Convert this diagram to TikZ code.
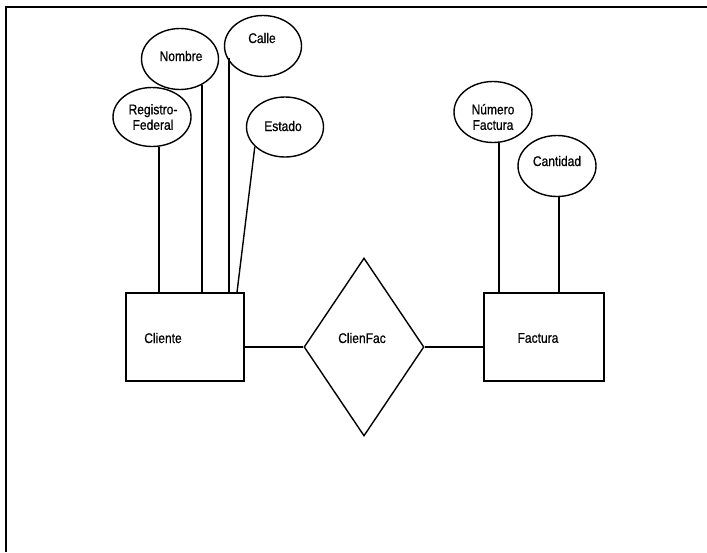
\documentclass[tikz,border=0pt]{standalone}
\usepackage{fontspec}
\setmainfont{Liberation Sans}
\newfontfamily\lblfont[FakeBold=0.8]{Liberation Sans}
\usetikzlibrary{shapes.geometric}
\begin{document}
\begin{tikzpicture}[x=1pt,y=-1pt,
  every path/.style={line width=1.4pt},
  attr/.style={draw,ellipse,inner sep=0pt,minimum width=77pt,minimum height=61pt},
  entity/.style={draw,rectangle,inner sep=0pt,minimum width=118pt,minimum height=88pt},
  rel/.style={draw,diamond,inner sep=0pt,aspect=0.674,minimum width=120pt,minimum height=178pt},
  lbl/.style={font=\lblfont\fontsize{14}{15.5}\selectfont,xscale=0.86,align=center,inner sep=0pt}]
\useasboundingbox (0,0) rectangle (707,552);

% page frame
\coordinate (frameTL) at (6,7);
\coordinate (frameTR) at (707,7);
\coordinate (frameBL) at (6,552);
\draw[line width=2pt] (frameTR) -- (frameTL) -- (frameBL);

% entities and relationship
\node[entity] (cliente) at (185,337) {};
\node[entity,minimum width=120pt] (factura) at (544,337) {};
\node[rel] (clienfac) at (364,347) {};
\node[lbl] (clienteT) at (163,338) {Cliente};
\node[lbl] (facturaT) at (538,338) {Factura};
\node[lbl] (clienfacT) at (362,338) {ClienFac};

% attributes of Cliente
\node[attr] (nombre) at (180,59) {};
\node[attr] (calle) at (263,46) {};
\node[attr,minimum width=78pt,minimum height=59pt] (regfed) at (152,117) {};
\node[attr,minimum height=60pt] (estado) at (285,127) {};
\node[lbl] (nombreT) at (181,56) {Nombre};
\node[lbl] (calleT) at (262,38) {Calle};
\node[lbl] (regfedT) at (153,117) {Registro-\\Federal};
\node[lbl] (estadoT) at (283,126) {Estado};

% attributes of Factura
\node[attr,minimum width=78pt] (numero) at (493,112) {};
\node[attr,minimum width=78pt] (cantidad) at (557,166) {};
\node[lbl] (numeroT) at (493,117) {Número\\Factura};
\node[lbl] (cantidadT) at (557,161) {Cantidad};

% attribute links (feet on the top edge of Cliente)
\coordinate (nombreFoot) at (201.8,293);
\coordinate (calleFoot) at (228.8,293);
\draw (regfed.-77) -- (regfed.-77 |- cliente.north);
\draw (nombreFoot |- nombre.-50) -- (nombreFoot);
\draw (calleFoot |- calle.-161) -- (calleFoot);
\coordinate (estadoEnd) at ([xshift=52pt]cliente.north);
\draw (estado.-147) -- (estadoEnd);
\draw (numero.-79) -- (numero.-79 |- factura.north);
\draw (cantidad.-86) -- (cantidad.-86 |- factura.north);

% relationship links
\draw (cliente.east |- clienfac.west) -- (clienfac.west);
\draw (clienfac.east) -- (factura.west |- clienfac.east);
\end{tikzpicture}
\end{document}
